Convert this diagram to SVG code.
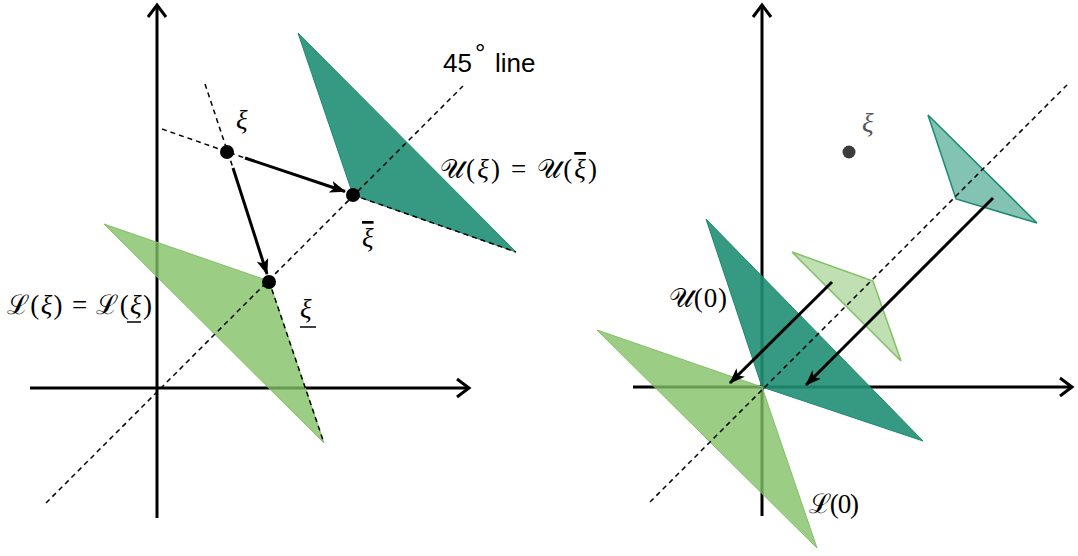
<svg xmlns="http://www.w3.org/2000/svg" width="1078" height="556" viewBox="0 0 1078 556">
<style>
.axis{stroke:#000;stroke-width:3;fill:none;}
.dash{stroke:#000;stroke-width:1.5;stroke-dasharray:5 4;fill:none;}
.arr{stroke:#000;stroke-width:3;fill:none;marker-end:url(#ah);}
.bar{stroke:#000;stroke-width:1.5;}
.teal{fill:#208f76;fill-opacity:0.9;stroke:#1a8a70;stroke-width:1;}
.green{fill:#82c065;fill-opacity:0.8;stroke:#82c065;stroke-width:1;}
.lteal{fill:#2e9b80;fill-opacity:0.6;stroke:#1a8a70;stroke-width:1.5;}
.lgreen{fill:#82c065;fill-opacity:0.5;stroke:#82c065;stroke-width:1.5;}
.math{font-family:"Liberation Serif","DejaVu Serif",serif;font-size:27px;fill:#000;}
.it{font-style:italic;}
.ol{text-decoration:overline;text-decoration-skip-ink:none;}
.sans{font-family:"Liberation Sans",Arial,sans-serif;font-size:26px;fill:#000;}
</style>
<defs>
<marker id="ah" viewBox="0 0 16 12" refX="15" refY="6" markerWidth="16" markerHeight="12" markerUnits="userSpaceOnUse" orient="auto">
<path d="M0,0 L16,6 L0,12 L4,6 z" fill="#000"/>
</marker>
</defs>
<rect width="1078" height="556" fill="#fff"/>

<!-- LEFT PANEL -->
<g id="left-axes">
<line class="axis" x1="157" y1="518" x2="157" y2="5"/>
<polyline class="axis" points="148,17 157,5 166,17"/>
<line class="axis" x1="30" y1="388" x2="469" y2="388"/>
<polyline class="axis" points="457,379 469,388 457,397"/>
</g>
<g id="U-xi">
<polygon class="teal" points="298,33 353,195 516,252"/>
</g>
<g id="L-xi">
<polygon class="green" points="104,224 269,281 324,443"/>
</g>
<g id="left-connectors">
<line class="dash" x1="46" y1="503" x2="463" y2="86"/>
<line class="dash" x1="353" y1="195" x2="516" y2="252"/>
<line class="dash" x1="269" y1="281" x2="324" y2="443"/>
<line class="dash" x1="205" y1="84" x2="233" y2="168"/>
<line class="dash" x1="162" y1="129" x2="245" y2="158"/>
<line class="arr" x1="245" y1="158" x2="345" y2="191.5"/>
<line class="arr" x1="233" y1="168" x2="267" y2="274"/>
</g>
<g id="pt-xi">
<circle cx="227" cy="152" r="7" fill="#000"/>
<text class="math it" x="236" y="129">ξ</text>
</g>
<g id="pt-xibar">
<circle cx="353" cy="195" r="7" fill="#000"/>
<text class="math it ol" x="362" y="247">ξ</text>
</g>
<g id="pt-xiunder">
<circle cx="269" cy="282" r="7" fill="#000"/>
<text class="math it" x="300" y="318">ξ</text>
<line class="bar" x1="300" y1="327" x2="316" y2="327"/>
</g>
<g id="labels-left">
<text class="sans" x="443" y="72">45</text>
<text class="sans" x="475" y="62" font-size="15">°</text>
<text class="sans" x="495" y="72">line</text>
<text class="math" x="440" y="178" textLength="157" lengthAdjust="spacing">𝒰(<tspan class="it">ξ</tspan>) = 𝒰(<tspan class="it ol">ξ</tspan>)</text>
<text class="math" x="7" y="314" textLength="145" lengthAdjust="spacing">ℒ(<tspan class="it">ξ</tspan>) = ℒ(<tspan class="it">ξ</tspan>)</text>
<line class="bar" x1="127" y1="322" x2="141" y2="322"/>
</g>

<!-- RIGHT PANEL -->
<g id="right-axes">
<line class="axis" x1="762" y1="516" x2="762" y2="5"/>
<polyline class="axis" points="753,17 762,5 771,17"/>
<line class="axis" x1="633" y1="387" x2="1072" y2="387"/>
<polyline class="axis" points="1060,378 1072,387 1060,396"/>
</g>
<g id="U0">
<polygon class="teal" points="706,219 762,387 923,441"/>
<text class="math" x="669" y="307" textLength="58" lengthAdjust="spacing">𝒰(0)</text>
</g>
<g id="L0">
<polygon class="green" points="597,330 762,387 817,548"/>
<text class="math" x="809" y="513" textLength="50" lengthAdjust="spacing">ℒ(0)</text>
</g>
<g id="U-shift">
<polygon class="lteal" points="928,115 956,199 1037,223"/>
</g>
<g id="L-shift">
<polygon class="lgreen" points="792,252 873,281 901,361"/>
</g>
<g id="pt-xi-right">
<circle cx="849" cy="152" r="6.5" fill="#3c3c3c"/>
<text class="math it" x="862" y="132" style="fill:#555">ξ</text>
</g>
<g id="right-connectors">
<line class="dash" x1="650" y1="502" x2="1067" y2="85"/>
<line class="arr" x1="832" y1="282" x2="730" y2="383"/>
<line class="arr" x1="993" y1="198" x2="806" y2="385"/>
</g>
</svg>
